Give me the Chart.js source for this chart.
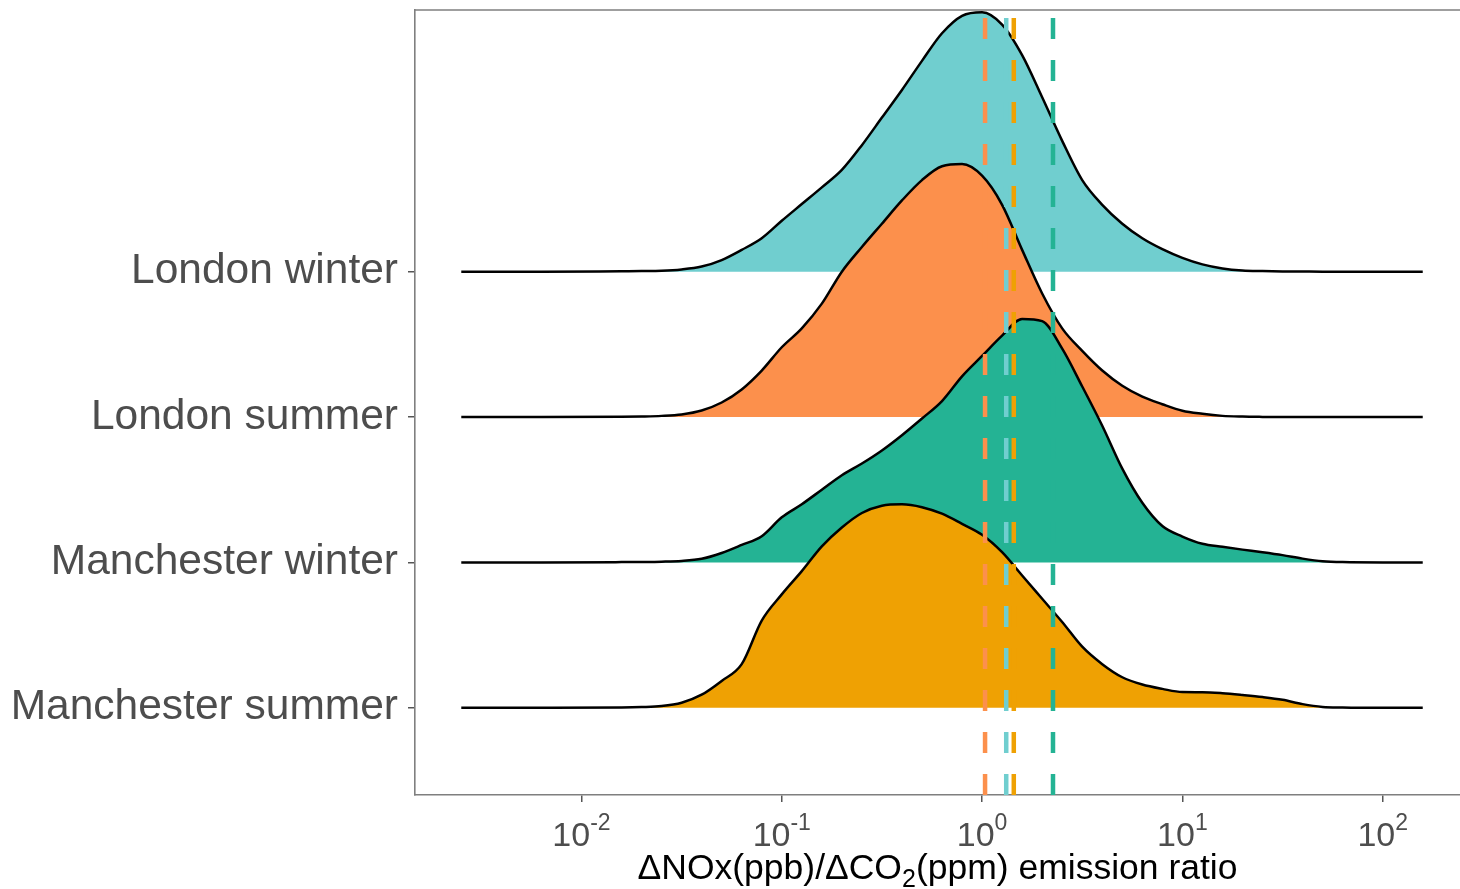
<!DOCTYPE html>
<html>
<head>
<meta charset="utf-8">
<title>NOx/CO2 emission ratio ridges</title>
<script src="https://cdn.jsdelivr.net/npm/chart.js@4.4.1/dist/chart.umd.min.js"></script>
<style>
  html, body { margin: 0; padding: 0; background: #fff; }
  #wrap { width: 1460px; height: 889px; position: relative; }
</style>
</head>
<body>
<div id="wrap"><canvas id="ridges"></canvas></div>
<script>
// ridge rows, top to bottom
const categories = ['London winter', 'London summer', 'Manchester winter', 'Manchester summer'];
const colours = ['#70CECF', '#FC904C', '#24B394', '#EFA103'];

// sample positions, log10 of the emission ratio
const logRatio = [-2.6, -2.2, -1.8, -1.7, -1.6, -1.5, -1.4, -1.3, -1.2, -1.1, -1.0,
  -0.9, -0.8, -0.7, -0.6, -0.5, -0.4, -0.3, -0.2, -0.1, 0.0,
  0.1, 0.2, 0.3, 0.4, 0.5, 0.6, 0.7, 0.8, 0.9, 1.0,
  1.1, 1.2, 1.3, 1.4, 1.5, 1.6, 1.7, 1.8, 2.0, 2.2];

// scaled density heights (in row spacings) at each sample position
const londonWinter = [0, 0, 0.003, 0.004, 0.006, 0.015, 0.035, 0.08, 0.15, 0.23, 0.35,
  0.465, 0.58, 0.70, 0.87, 1.06, 1.25, 1.45, 1.64, 1.76, 1.785,
  1.70, 1.49, 1.20, 0.90, 0.63, 0.46, 0.33, 0.23, 0.155, 0.095,
  0.05, 0.022, 0.008, 0.004, 0.002, 0.001, 0, 0, 0, 0];
const londonSummer = [0, 0, 0.002, 0.004, 0.008, 0.018, 0.045, 0.10, 0.19, 0.32, 0.48,
  0.61, 0.78, 1.00, 1.17, 1.33, 1.49, 1.63, 1.725, 1.74, 1.66,
  1.46, 1.15, 0.85, 0.61, 0.455, 0.32, 0.215, 0.14, 0.088, 0.043,
  0.022, 0.008, 0.003, 0.001, 0, 0, 0, 0, 0, 0];
const manchesterWinter = [0, 0, 0.002, 0.003, 0.005, 0.01, 0.025, 0.065, 0.12, 0.18, 0.31,
  0.40, 0.50, 0.60, 0.68, 0.77, 0.875, 0.99, 1.11, 1.28, 1.42,
  1.56, 1.675, 1.66, 1.47, 1.21, 0.94, 0.645, 0.41, 0.25, 0.178,
  0.128, 0.107, 0.088, 0.07, 0.05, 0.026, 0.008, 0.002, 0, 0];
const manchesterSummer = [0, 0, 0.002, 0.005, 0.012, 0.035, 0.09, 0.185, 0.30, 0.60, 0.78,
  0.94, 1.11, 1.24, 1.34, 1.39, 1.40, 1.38, 1.335, 1.265, 1.19,
  1.07, 0.91, 0.75, 0.59, 0.42, 0.30, 0.21, 0.16, 0.13, 0.108,
  0.107, 0.10, 0.088, 0.074, 0.055, 0.025, 0.006, 0.002, 0, 0];

// median ratio of each row, drawn as dashed verticals
const medianRatio = [1.32, 1.035, 2.26, 1.44];

const tickExponents = [-2, -1, 0, 1, 2];

const densities = [londonWinter, londonSummer, manchesterWinter, manchesterSummer];
const FONT = '"Liberation Sans", Arial, Helvetica, sans-serif';
const yMin = 0.4, yMax = 5.8;
const xMin = Math.pow(10, -2.831), xMax = Math.pow(10, 2.386);

// top row gets the highest baseline
const baseOf = i => categories.length - i;

const ridgeSets = categories.map((name, i) => ({
  label: name,
  data: logRatio.map((l, k) => ({x: Math.pow(10, l), y: baseOf(i) + densities[i][k]})),
  borderColor: '#000',
  borderWidth: 2.5,
  backgroundColor: colours[i],
  fill: {value: baseOf(i)},
  pointRadius: 0,
  cubicInterpolationMode: 'monotone',
  order: categories.length - i + 1   // lower rows are painted over upper ones
}));

const medianSets = categories.map((name, i) => ({
  label: name + ' median',
  data: [{x: medianRatio[i], y: yMin}, {x: medianRatio[i], y: yMax}],
  borderColor: colours[i],
  borderWidth: 4.5,
  borderDash: [21, 21],
  fill: false,
  pointRadius: 0,
  order: 0
}));

// top edge of the panel, decade labels with exponents and the axis title
const axisText = {
  id: 'axisText',
  afterDraw(chart) {
    const {ctx, chartArea: a, scales: {x}} = chart;
    ctx.save();
    ctx.strokeStyle = '#7f7f7f';
    ctx.lineWidth = 1.6;
    ctx.beginPath();
    ctx.moveTo(a.left, a.top);
    ctx.lineTo(a.right, a.top);
    ctx.stroke();

    ctx.textAlign = 'left';
    ctx.textBaseline = 'alphabetic';
    ctx.fillStyle = '#4D4D4D';
    tickExponents.forEach(e => {
      const px = x.getPixelForValue(Math.pow(10, e));
      const sup = String(e);
      ctx.font = '34px ' + FONT;
      const wb = ctx.measureText('10').width;
      ctx.font = '23px ' + FONT;
      const ws = ctx.measureText(sup).width;
      const left = px - (wb + ws) / 2;
      ctx.font = '34px ' + FONT;
      ctx.fillText('10', left, a.bottom + 51);
      ctx.font = '23px ' + FONT;
      ctx.fillText(sup, left + wb, a.bottom + 35);
    });

    const parts = [['ΔNOx(ppb)/ΔCO', false], ['2', true], ['(ppm) emission ratio', false]];
    const fontOf = sub => (sub ? '25px ' : '35.5px ') + FONT;
    let total = 0;
    parts.forEach(([t, sub]) => { ctx.font = fontOf(sub); total += ctx.measureText(t).width; });
    let cx = (a.left + a.right) / 2 - total / 2;
    ctx.fillStyle = '#000';
    parts.forEach(([t, sub]) => {
      ctx.font = fontOf(sub);
      ctx.fillText(t, cx, a.bottom + (sub ? 92 : 84));
      cx += ctx.measureText(t).width;
    });
    ctx.restore();
  }
};

new Chart(document.getElementById('ridges'), {
  type: 'line',
  data: {datasets: [...ridgeSets, ...medianSets]},
  options: {
    responsive: true,
    maintainAspectRatio: false,
    animation: false,
    layout: {padding: {top: 10, right: 0, left: 0, bottom: 0}},
    plugins: {legend: {display: false}, tooltip: {enabled: false}},
    scales: {
      x: {
        type: 'logarithmic',
        min: xMin,
        max: xMax,
        bounds: 'data',
        afterBuildTicks: s => { s.ticks = tickExponents.map(e => ({value: Math.pow(10, e)})); },
        afterFit: s => { s.height = 94; s.paddingLeft = 0; s.paddingRight = 0; },
        ticks: {display: false},
        grid: {display: true, drawOnChartArea: false, drawTicks: true, tickLength: 7, color: '#555', lineWidth: 1.5},
        border: {display: true, color: '#7f7f7f', width: 1.6}
      },
      y: {
        type: 'linear',
        min: yMin,
        max: yMax,
        afterBuildTicks: s => { s.ticks = categories.map((c, i) => ({value: baseOf(i)})); },
        afterFit: s => { s.width = 415; s.paddingTop = 0; s.paddingBottom = 0; },
        ticks: {
          autoSkip: false,
          padding: 10,
          color: '#4D4D4D',
          font: {family: FONT, size: 42.5},
          callback: v => categories[categories.length - v]
        },
        grid: {display: true, drawOnChartArea: false, drawTicks: true, tickLength: 7, color: '#555', lineWidth: 1.5},
        border: {display: true, color: '#7f7f7f', width: 1.6}
      }
    }
  },
  plugins: [axisText]
});
</script>
</body>
</html>
